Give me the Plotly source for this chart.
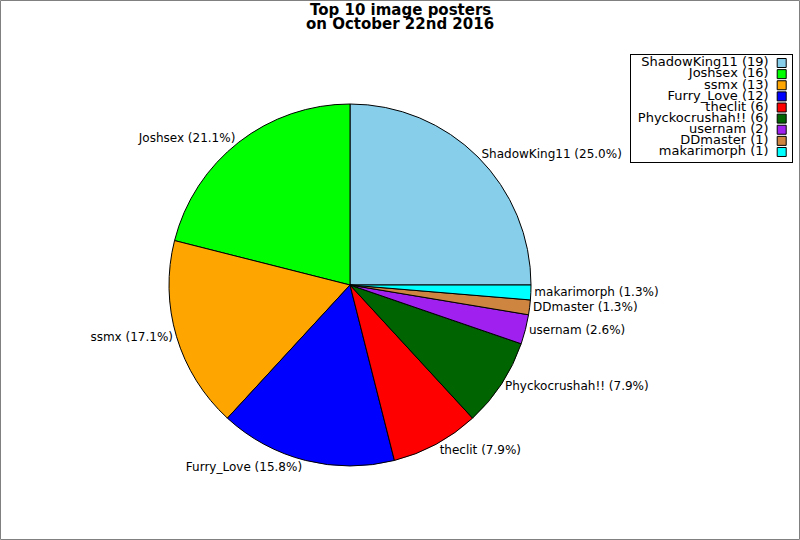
import plotly.graph_objects as go

# data
names = ['ShadowKing11', 'Joshsex', 'ssmx', 'Furry_Love', 'theclit',
         'Phyckocrushah!!', 'usernam', 'DDmaster', 'makarimorph']
counts = [19, 16, 13, 12, 6, 6, 2, 1, 1]
colors = ['#87CEEB', '#00FF00', '#FFA500', '#0000FF', '#FF0000',
          '#006400', '#A020F0', '#CD853F', '#00FFFF']
title_lines = ['Top 10 image posters', 'on October 22nd 2016']

W, H = 800, 540
font = 'DejaVu Sans'

# pie geometry in pixels (center, radius)
cx, cy, r = 350, 285, 181

# plotly puts the first slice clockwise from `rotation`; we want it to end at 3 o'clock
rot = 90 - 360 * counts[0] / sum(counts)

fig = go.Figure()
fig.add_trace(go.Pie(
    labels=names, values=counts, sort=False,
    direction='counterclockwise', rotation=rot,
    marker=dict(colors=colors, line=dict(color='black', width=1)),
    texttemplate='%{label} (%{percent:.1%})', textposition='outside',
    outsidetextfont=dict(family=font, size=12, color='black'),
    domain=dict(x=[(cx - r) / W, (cx + r) / W],
                y=[(H - cy - r) / H, (H - cy + r) / H]),
    showlegend=False, hoverinfo='label+value+percent',
))

# custom legend: text right-aligned, square swatch on the right
legend_text = [f'{n} ({c})' for n, c in zip(names, counts)]
rows = list(range(len(names)))
fig.add_trace(go.Scatter(
    x=[0.855] * len(names), y=rows, mode='text', text=legend_text,
    textposition='middle left',
    textfont=dict(family=font, size=13, color='black'),
    cliponaxis=False, showlegend=False, hoverinfo='skip',
))
fig.add_trace(go.Scatter(
    x=[0.936] * len(names), y=rows, mode='markers',
    marker=dict(symbol='square', size=9, color=colors,
                line=dict(color='black', width=1)),
    cliponaxis=False, showlegend=False, hoverinfo='skip',
))

annotations = [
    dict(text=f'<b>{t}</b>', x=0.5, xref='paper', xanchor='center',
         y=1 - (10 + 14 * i) / H, yref='paper', yanchor='middle',
         showarrow=False, font=dict(family=font, size=15, color='black'))
    for i, t in enumerate(title_lines)
]

fig.update_layout(
    width=W, height=H,
    margin=dict(l=0, r=0, t=0, b=0),
    paper_bgcolor='white', plot_bgcolor='white',
    font=dict(family=font, size=12, color='black'),
    annotations=annotations,
    xaxis=dict(domain=[631 / W, 792 / W], range=[0, 1],
               showgrid=False, zeroline=False, showticklabels=False,
               ticks='', showline=True, mirror=True, linecolor='black',
               linewidth=1, fixedrange=True),
    yaxis=dict(domain=[1 - 162 / H, 1 - 55 / H], range=[8.9, -0.72],
               showgrid=False, zeroline=False, showticklabels=False,
               ticks='', showline=True, mirror=True, linecolor='black',
               linewidth=1, fixedrange=True),
    shapes=[dict(type='rect', xref='paper', yref='paper',
                 x0=0.5 / W, x1=1 - 0.5 / W, y0=0.5 / H, y1=1 - 0.5 / H,
                 line=dict(color='#808080', width=1))],
)

fig.write_html('out.html', config={'displayModeBar': False},
               post_script="document.body.style.margin='0';")
